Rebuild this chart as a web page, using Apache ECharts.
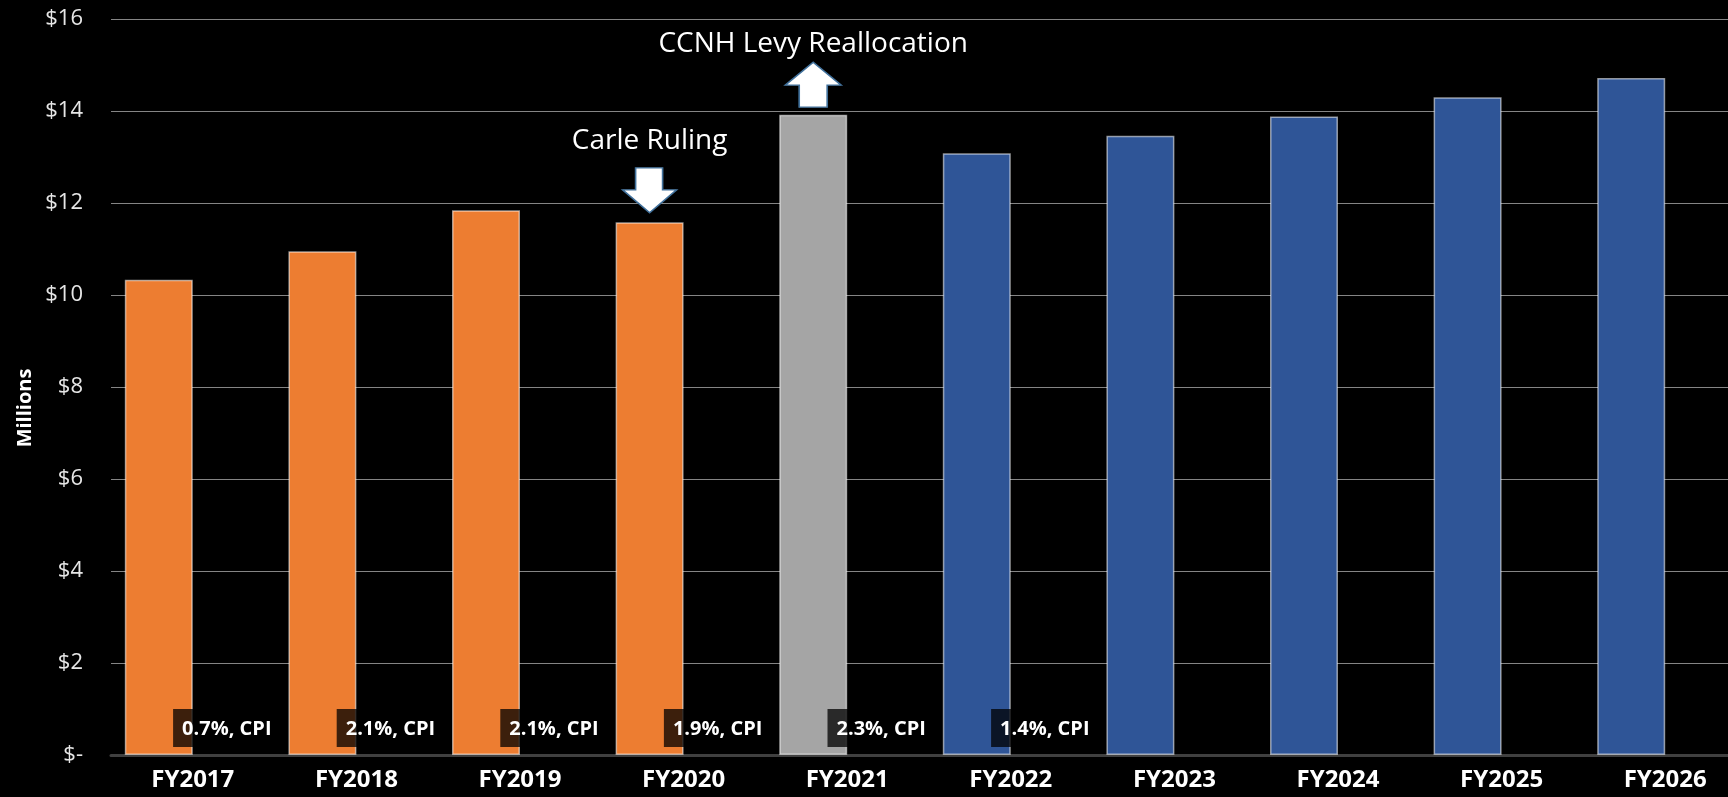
<!DOCTYPE html>
<html>
<head>
<meta charset="utf-8">
<script src="https://cdn.jsdelivr.net/npm/echarts@6/dist/echarts.min.js"></script>
<style>
html,body{margin:0;padding:0;background:#000;overflow:hidden;width:1728px;height:797px;}
#chart{width:1760px;height:797px;}
</style>
</head>
<body>
<div id="chart"></div>
<script>
// ---- data ----
const categories = ['FY2017','FY2018','FY2019','FY2020','FY2021','FY2022','FY2023','FY2024','FY2025','FY2026'];
const levyValues = [10.33, 10.95, 11.84, 11.58, 13.92, 13.08, 13.46, 13.88, 14.30, 14.72];
const phases = ['actual','actual','actual','actual','realloc','projected','projected','projected','projected','projected'];
const cpiLabels = ['0.7%, CPI','2.1%, CPI','2.1%, CPI','1.9%, CPI','2.3%, CPI','1.4%, CPI', null, null, null, null];
const yTicks = {min: 0, max: 16, interval: 2};
const annotations = [
  {category: 'FY2020', text: 'Carle Ruling', dir: 'down'},
  {category: 'FY2021', text: 'CCNH Levy Reallocation', dir: 'up'}
];

// ---- styles ----
const phaseColors = {actual: '#ED7D31', realloc: '#A5A5A5', projected: '#2F5597'};
const FONT = '"Open Sans", "Noto Sans", sans-serif';
const upArrow = 'path://M28 0 L56 23 L42 23 L42 45 L14 45 L14 23 L0 23 Z';
const downArrow = 'path://M13 0 L40 0 L40 22 L54 22 L27 45 L0 22 L13 22 Z';

const chart = echarts.init(document.getElementById('chart'), null, {renderer: 'canvas'});

const markData = annotations.map(a => {
  const idx = categories.indexOf(a.category);
  const up = a.dir === 'up';
  return {
    coord: [idx, levyValues[idx]],
    symbol: up ? upArrow : downArrow,
    symbolSize: up ? [56, 45] : [54, 45],
    symbolOffset: [0, up ? -30 : -32],
    itemStyle: {color: '#ffffff', borderColor: '#41719C', borderWidth: 1.5},
    label: {
      show: true, position: 'top', distance: up ? 3 : 12,
      formatter: a.text, color: '#ffffff', fontFamily: FONT, fontSize: 28
    }
  };
});

const option = {
  backgroundColor: '#000000',
  animation: false,
  grid: {left: 111, top: 19, width: 1636, height: 736, containLabel: false},
  xAxis: {
    type: 'category',
    data: categories,
    axisTick: {show: false},
    axisLine: {show: true, lineStyle: {color: '#404040', width: 3}},
    axisLabel: {color: '#ffffff', fontFamily: FONT, fontWeight: 'bold', fontSize: 24, margin: 13}
  },
  yAxis: {
    type: 'value',
    min: yTicks.min, max: yTicks.max, interval: yTicks.interval,
    axisLine: {show: false},
    axisTick: {show: false},
    splitLine: {show: true, lineStyle: {color: '#858585', width: 1.2}},
    axisLabel: {
      color: '#e6e6e6', fontFamily: FONT, fontSize: 22, margin: 28,
      formatter: v => v === 0 ? '$-' : '$' + v
    }
  },
  graphic: [{
    type: 'text',
    x: 25, y: 408,
    rotation: Math.PI / 2,
    style: {text: 'Millions', fill: '#ffffff', font: 'bold 20px "Open Sans", sans-serif', textAlign: 'center', textVerticalAlign: 'middle'}
  }],
  series: [
    {
      name: 'Levy',
      type: 'bar',
      barWidth: 68,
      barGap: '0%',
      data: levyValues.map((v, i) => ({
        value: v,
        itemStyle: {color: phaseColors[phases[i]], borderColor: 'rgba(255,255,255,0.55)', borderWidth: 1.5}
      })),
      markPoint: {data: markData, animation: false}
    },
    {
      name: 'CPI',
      type: 'bar',
      barWidth: 68,
      barGap: '0%',
      itemStyle: {color: 'rgba(0,0,0,0)'},
      data: cpiLabels.map(t => t === null ? null : 0),
      label: {
        show: true,
        position: 'top',
        distance: 8,
        formatter: p => cpiLabels[p.dataIndex] || '',
        color: '#ffffff',
        fontFamily: FONT,
        fontWeight: 'bold',
        fontSize: 20,
        lineHeight: 20,
        backgroundColor: 'rgba(0,0,0,0.75)',
        padding: [10, 9, 8, 9]
      }
    }
  ]
};
chart.setOption(option);
</script>
</body>
</html>
